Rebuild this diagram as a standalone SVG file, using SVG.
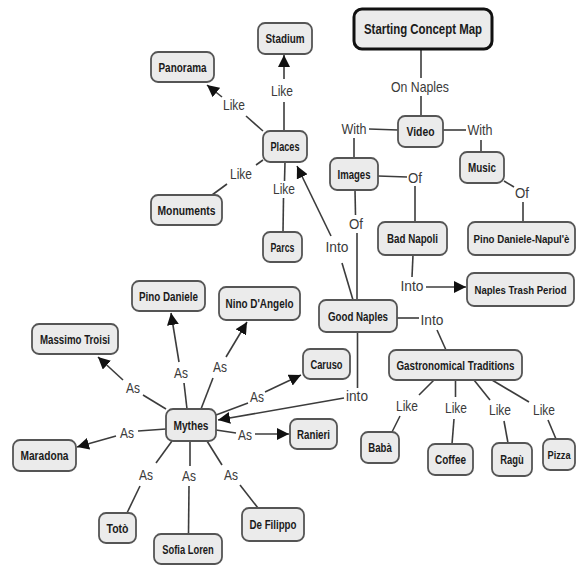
<svg xmlns="http://www.w3.org/2000/svg" width="576" height="565" viewBox="0 0 576 565">
<style>
.n rect{fill:#ebebeb;stroke:#555;stroke-width:1.8}
.n text{font-family:"Liberation Sans Narrow","Liberation Sans",Arial,sans-serif;font-weight:bold;font-size:12.5px;fill:#1a1a1a;text-anchor:middle}
.l{font-family:"Liberation Sans Narrow","Liberation Sans",Arial,sans-serif;font-size:15px;fill:#3a3a3a;text-anchor:middle}
#connectors line{stroke:#3c3c3c;stroke-width:1.6}
#connectors line.a{marker-end:url(#arr)}
</style>
<defs>
<marker id="arr" markerUnits="userSpaceOnUse" markerWidth="14" markerHeight="12" refX="12" refY="6" orient="auto">
<path d="M0,0 L12,6 L0,12 z" fill="#111"/>
</marker>
</defs>
<rect width="576" height="565" fill="#fff"/>
<g id="connectors">
<line x1="421" y1="49" x2="421" y2="78"/>
<line x1="421" y1="96" x2="421" y2="116"/>
<line x1="398" y1="130" x2="369" y2="129"/>
<line x1="354" y1="138" x2="354" y2="158"/>
<line x1="443" y1="130" x2="466" y2="130"/>
<line x1="481" y1="140" x2="481" y2="152"/>
<line x1="378" y1="176" x2="407" y2="177"/>
<line x1="415" y1="186" x2="415" y2="222"/>
<line x1="504" y1="181" x2="514" y2="187"/>
<line x1="523" y1="202" x2="523" y2="222"/>
<line x1="355" y1="190" x2="355.5" y2="215"/>
<line x1="357" y1="233" x2="357" y2="300"/>
<line x1="353" y1="300" x2="342" y2="263"/>
<line class="a" x1="331" y1="236" x2="297" y2="166"/>
<line x1="413" y1="255" x2="412" y2="277"/>
<line class="a" x1="426" y1="287" x2="466" y2="287"/>
<line x1="397" y1="318" x2="419" y2="318"/>
<line x1="437" y1="330" x2="446" y2="350"/>
<line x1="357.5" y1="332" x2="357.5" y2="388"/>
<line class="a" x1="344" y1="398" x2="218" y2="420"/>
<line x1="263" y1="131" x2="246" y2="116"/>
<line class="a" x1="222" y1="97" x2="207" y2="85"/>
<line x1="284" y1="131" x2="284" y2="102"/>
<line class="a" x1="284" y1="79" x2="284" y2="55"/>
<line x1="263" y1="160" x2="256" y2="165"/>
<line x1="227" y1="184" x2="212" y2="195"/>
<line x1="285" y1="162" x2="284.5" y2="181"/>
<line x1="283.5" y1="198" x2="283" y2="232"/>
<line x1="434" y1="380" x2="419" y2="395"/>
<line x1="400" y1="416" x2="392" y2="432"/>
<line x1="455.5" y1="380" x2="455.5" y2="397"/>
<line x1="454" y1="419" x2="452" y2="444"/>
<line x1="474" y1="380" x2="490" y2="400"/>
<line x1="504" y1="421" x2="508" y2="443"/>
<line x1="492" y1="380" x2="529" y2="402"/>
<line x1="548" y1="420" x2="556" y2="439"/>
<line x1="166" y1="409" x2="143" y2="395"/>
<line class="a" x1="123" y1="380" x2="98" y2="357"/>
<line x1="187" y1="409" x2="184" y2="383"/>
<line class="a" x1="179" y1="362" x2="171" y2="313"/>
<line x1="201" y1="409" x2="213" y2="378"/>
<line class="a" x1="226" y1="357" x2="247" y2="322"/>
<line x1="216" y1="415" x2="248" y2="403"/>
<line class="a" x1="265" y1="392" x2="301" y2="375"/>
<line x1="166" y1="429" x2="138" y2="431"/>
<line class="a" x1="116" y1="436" x2="77" y2="447"/>
<line x1="216" y1="430" x2="236" y2="433"/>
<line class="a" x1="255" y1="434" x2="289" y2="434"/>
<line x1="172" y1="441" x2="156" y2="463"/>
<line x1="140" y1="486" x2="127" y2="513"/>
<line x1="190" y1="441" x2="190" y2="466"/>
<line x1="189" y1="486" x2="188.5" y2="534"/>
<line x1="207" y1="441" x2="222" y2="465"/>
<line x1="240" y1="485" x2="258" y2="508"/>
</g>
<g id="labels">
<text class="l" x="420" y="92" textLength="58" lengthAdjust="spacingAndGlyphs">On Naples</text>
<text class="l" x="354" y="134" textLength="25" lengthAdjust="spacingAndGlyphs">With</text>
<text class="l" x="480" y="135" textLength="25" lengthAdjust="spacingAndGlyphs">With</text>
<text class="l" x="415" y="183" textLength="14" lengthAdjust="spacingAndGlyphs">Of</text>
<text class="l" x="522" y="198" textLength="14" lengthAdjust="spacingAndGlyphs">Of</text>
<text class="l" x="356" y="229" textLength="14" lengthAdjust="spacingAndGlyphs">Of</text>
<text class="l" x="337" y="252" textLength="23" lengthAdjust="spacingAndGlyphs">Into</text>
<text class="l" x="412" y="291" textLength="23" lengthAdjust="spacingAndGlyphs">Into</text>
<text class="l" x="432" y="325" textLength="23" lengthAdjust="spacingAndGlyphs">Into</text>
<text class="l" x="357" y="401" textLength="22" lengthAdjust="spacingAndGlyphs">into</text>
<text class="l" x="234" y="110" textLength="22" lengthAdjust="spacingAndGlyphs">Like</text>
<text class="l" x="282" y="96" textLength="22" lengthAdjust="spacingAndGlyphs">Like</text>
<text class="l" x="241" y="179" textLength="22" lengthAdjust="spacingAndGlyphs">Like</text>
<text class="l" x="284" y="194" textLength="22" lengthAdjust="spacingAndGlyphs">Like</text>
<text class="l" x="407" y="411" textLength="22" lengthAdjust="spacingAndGlyphs">Like</text>
<text class="l" x="456" y="413" textLength="22" lengthAdjust="spacingAndGlyphs">Like</text>
<text class="l" x="500" y="415" textLength="22" lengthAdjust="spacingAndGlyphs">Like</text>
<text class="l" x="544" y="415" textLength="22" lengthAdjust="spacingAndGlyphs">Like</text>
<text class="l" x="133" y="393" textLength="14" lengthAdjust="spacingAndGlyphs">As</text>
<text class="l" x="181" y="378" textLength="14" lengthAdjust="spacingAndGlyphs">As</text>
<text class="l" x="220" y="372" textLength="14" lengthAdjust="spacingAndGlyphs">As</text>
<text class="l" x="257" y="402" textLength="14" lengthAdjust="spacingAndGlyphs">As</text>
<text class="l" x="127" y="438" textLength="14" lengthAdjust="spacingAndGlyphs">As</text>
<text class="l" x="245" y="440" textLength="14" lengthAdjust="spacingAndGlyphs">As</text>
<text class="l" x="146" y="480" textLength="14" lengthAdjust="spacingAndGlyphs">As</text>
<text class="l" x="189" y="481" textLength="14" lengthAdjust="spacingAndGlyphs">As</text>
<text class="l" x="231" y="480" textLength="14" lengthAdjust="spacingAndGlyphs">As</text>
</g>
<g id="start" class="n"><rect x="354" y="9" width="138" height="40" rx="8" style="stroke:#111;stroke-width:3"/><text x="423" y="34" textLength="118" lengthAdjust="spacingAndGlyphs" style="font-size:15px">Starting Concept Map</text></g>
<g id="stadium" class="n"><rect x="258" y="23" width="54" height="31" rx="7"/><text x="285" y="43" textLength="39" lengthAdjust="spacingAndGlyphs">Stadium</text></g>
<g id="panorama" class="n"><rect x="151" y="52" width="63" height="30" rx="7"/><text x="182.5" y="71.5" textLength="48" lengthAdjust="spacingAndGlyphs">Panorama</text></g>
<g id="places" class="n"><rect x="263" y="131" width="44" height="31" rx="7"/><text x="285" y="151" textLength="29" lengthAdjust="spacingAndGlyphs">Places</text></g>
<g id="monuments" class="n"><rect x="151" y="195" width="71" height="30" rx="7"/><text x="186.5" y="214.5" textLength="58" lengthAdjust="spacingAndGlyphs">Monuments</text></g>
<g id="parcs" class="n"><rect x="263" y="232" width="39" height="30" rx="7"/><text x="282.5" y="251.5" textLength="24" lengthAdjust="spacingAndGlyphs">Parcs</text></g>
<g id="video" class="n"><rect x="398" y="116" width="45" height="31" rx="7"/><text x="420.5" y="136" textLength="28" lengthAdjust="spacingAndGlyphs">Video</text></g>
<g id="images" class="n"><rect x="330" y="158" width="48" height="32" rx="7"/><text x="354" y="178.5" textLength="33" lengthAdjust="spacingAndGlyphs">Images</text></g>
<g id="music" class="n"><rect x="460" y="152" width="44" height="31" rx="7"/><text x="482" y="172" textLength="28" lengthAdjust="spacingAndGlyphs">Music</text></g>
<g id="badnapoli" class="n"><rect x="378" y="222" width="69" height="33" rx="7"/><text x="412.5" y="243" textLength="51" lengthAdjust="spacingAndGlyphs">Bad Napoli</text></g>
<g id="pinonapule" class="n"><rect x="468" y="222" width="107" height="33" rx="7"/><text x="521.5" y="242.5" textLength="96" lengthAdjust="spacingAndGlyphs" style="font-size:10.5px">Pino Daniele-Napul'è</text></g>
<g id="trashperiod" class="n"><rect x="467" y="273" width="107" height="33" rx="7"/><text x="520.5" y="293.5" textLength="92" lengthAdjust="spacingAndGlyphs" style="font-size:10.5px">Naples Trash Period</text></g>
<g id="goodnaples" class="n"><rect x="319" y="300" width="78" height="32" rx="7"/><text x="358" y="320.5" textLength="60" lengthAdjust="spacingAndGlyphs">Good Naples</text></g>
<g id="gastro" class="n"><rect x="389" y="350" width="133" height="30" rx="7"/><text x="455.5" y="369.5" textLength="118" lengthAdjust="spacingAndGlyphs">Gastronomical Traditions</text></g>
<g id="baba" class="n"><rect x="361" y="432" width="38" height="31" rx="7"/><text x="380" y="452" textLength="23.5" lengthAdjust="spacingAndGlyphs">Babà</text></g>
<g id="coffee" class="n"><rect x="428" y="444" width="45" height="31" rx="7"/><text x="450.5" y="464" textLength="31" lengthAdjust="spacingAndGlyphs">Coffee</text></g>
<g id="ragu" class="n"><rect x="492" y="443" width="40" height="33" rx="7"/><text x="512" y="464" textLength="23.5" lengthAdjust="spacingAndGlyphs">Ragù</text></g>
<g id="pizza" class="n"><rect x="543" y="439" width="32" height="31" rx="7"/><text x="559" y="459" textLength="23" lengthAdjust="spacingAndGlyphs" style="font-size:11.5px">Pizza</text></g>
<g id="pinodaniele" class="n"><rect x="132" y="281" width="73" height="30" rx="7"/><text x="168.5" y="300.5" textLength="59" lengthAdjust="spacingAndGlyphs">Pino Daniele</text></g>
<g id="ninodangelo" class="n"><rect x="219" y="287" width="81" height="33" rx="7"/><text x="259.5" y="308" textLength="68" lengthAdjust="spacingAndGlyphs">Nino D'Angelo</text></g>
<g id="massimotroisi" class="n"><rect x="32" y="324" width="86" height="30" rx="7"/><text x="75" y="343.5" textLength="70" lengthAdjust="spacingAndGlyphs">Massimo Troisi</text></g>
<g id="caruso" class="n"><rect x="303" y="349" width="47" height="30" rx="7"/><text x="326.5" y="368.5" textLength="32" lengthAdjust="spacingAndGlyphs">Caruso</text></g>
<g id="mythes" class="n"><rect x="166" y="409" width="50" height="32" rx="7"/><text x="191" y="429.5" textLength="35" lengthAdjust="spacingAndGlyphs">Mythes</text></g>
<g id="ranieri" class="n"><rect x="290" y="419" width="47" height="30" rx="7"/><text x="313.5" y="438.5" textLength="33" lengthAdjust="spacingAndGlyphs">Ranieri</text></g>
<g id="maradona" class="n"><rect x="13" y="440" width="63" height="31" rx="7"/><text x="44.5" y="460" textLength="48" lengthAdjust="spacingAndGlyphs">Maradona</text></g>
<g id="toto" class="n"><rect x="99" y="513" width="37" height="30" rx="7"/><text x="117.5" y="532.5" textLength="22" lengthAdjust="spacingAndGlyphs">Totò</text></g>
<g id="sofialoren" class="n"><rect x="154" y="534" width="68" height="30" rx="7"/><text x="188" y="553.5" textLength="51.5" lengthAdjust="spacingAndGlyphs">Sofia Loren</text></g>
<g id="defilippo" class="n"><rect x="242" y="508" width="62" height="33" rx="7"/><text x="273" y="529" textLength="47" lengthAdjust="spacingAndGlyphs">De Filippo</text></g>
</svg>
